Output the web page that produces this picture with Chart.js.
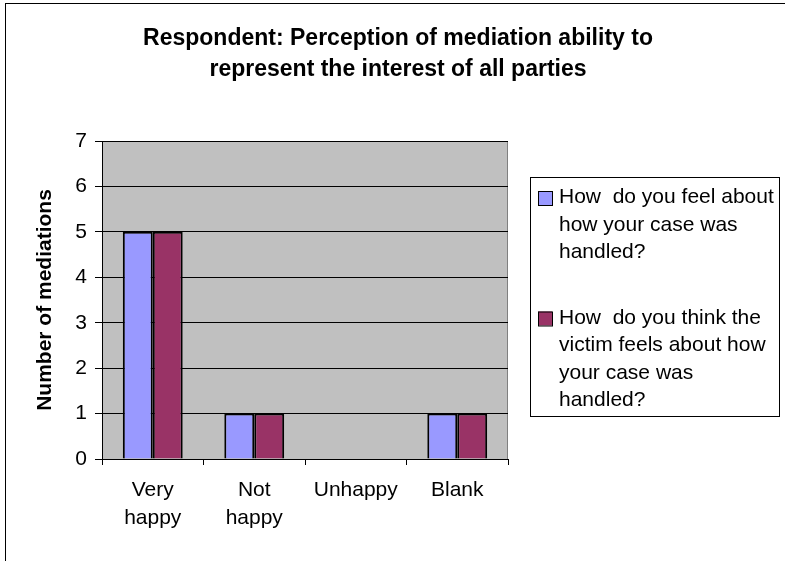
<!DOCTYPE html>
<html>
<head>
<meta charset="utf-8">
<title>Respondent: Perception of mediation ability</title>
<script src="https://cdn.jsdelivr.net/npm/chart.js@4/dist/chart.umd.min.js"></script>
<style>
  html, body { margin: 0; padding: 0; background: #fff; }
  #wrap { width: 785px; height: 561px; position: relative; }
</style>
</head>
<body>
<div id="wrap"><canvas id="mediationChart"></canvas></div>
<script>
const categories = [["Very", "happy"], ["Not", "happy"], "Unhappy", "Blank"];
const feelValues = [5, 1, 0, 1];
const victimValues = [5, 1, 0, 1];
const feelLabel = ["How  do you feel about", "how your case was", "handled?"];
const victimLabel = ["How  do you think the", "victim feels about how", "your case was", "handled?"];
const yTicks = [0, 1, 2, 3, 4, 5, 6, 7];

const FONT = "Arial, 'Liberation Sans', sans-serif";

// grey plot area + outer frame
const backdrop = {
  id: "backdrop",
  beforeDraw(chart) {
    const { ctx, chartArea: a } = chart;
    ctx.save();
    ctx.fillStyle = "#fff";
    ctx.fillRect(0, 0, chart.width, chart.height);
    ctx.strokeStyle = "#000";
    ctx.lineWidth = 1;
    ctx.strokeRect(5.5, 3.5, chart.width + 20, chart.height + 20);
    ctx.fillStyle = "#c0c0c0";
    ctx.fillRect(a.left, a.top, a.right - a.left, a.bottom - a.top);
    ctx.strokeStyle = "#808080";
    ctx.beginPath();
    ctx.moveTo(a.right - 0.5, a.top);
    ctx.lineTo(a.right - 0.5, a.bottom);
    ctx.stroke();
    ctx.restore();
  },
};

// boxed legend on the right with wrapped labels
const sideLegend = {
  id: "sideLegend",
  afterDraw(chart) {
    const { ctx } = chart;
    const entries = [
      { lines: feelLabel, color: chart.data.datasets[0].backgroundColor, top: 203 },
      { lines: victimLabel, color: chart.data.datasets[1].backgroundColor, top: 323.5 },
    ];
    ctx.save();
    ctx.strokeStyle = "#000";
    ctx.lineWidth = 1;
    ctx.strokeRect(530.5, 177.5, 249, 239);
    ctx.font = "21px " + FONT;
    ctx.fillStyle = "#000";
    ctx.textBaseline = "alphabetic";
    entries.forEach((e) => {
      ctx.fillStyle = e.color;
      ctx.fillRect(538, e.top - 12, 14, 14);
      ctx.strokeRect(538.5, e.top - 11.5, 14, 14);
      ctx.fillStyle = "#000";
      e.lines.forEach((line, i) => {
        ctx.fillText(line, 559, e.top + i * 27.5);
      });
    });
    ctx.restore();
  },
};

new Chart(document.getElementById("mediationChart"), {
  type: "bar",
  data: {
    labels: categories,
    datasets: [
      {
        label: feelLabel.join(" "),
        data: feelValues,
        backgroundColor: "#9999ff",
        borderColor: "#000",
        borderWidth: 2,
        categoryPercentage: 0.59,
        barPercentage: 1,
      },
      {
        label: victimLabel.join(" "),
        data: victimValues,
        backgroundColor: "#993366",
        borderColor: "#000",
        borderWidth: 2,
        categoryPercentage: 0.59,
        barPercentage: 1,
      },
    ],
  },
  plugins: [backdrop, sideLegend],
  options: {
    responsive: true,
    maintainAspectRatio: false,
    animation: false,
    layout: { padding: { left: 11, right: 0, top: 0, bottom: 0 } },
    plugins: {
      legend: { display: false },
      tooltip: { enabled: false },
      title: {
        display: true,
        text: ["Respondent: Perception of mediation ability to", "represent the interest of all parties"],
        color: "#000",
        font: { family: FONT, size: 23, weight: "bold", lineHeight: 1.37 },
        padding: { top: 22.75, bottom: 55.25 },
      },
    },
    scales: {
      x: {
        afterFit(s) { s.height = 102; },
        grid: { display: true, drawOnChartArea: false, drawTicks: true, tickLength: 6, color: "#000", offset: true },
        border: { display: true, color: "#000", width: 1 },
        ticks: { color: "#000", padding: 11, maxRotation: 0, font: { family: FONT, size: 21, lineHeight: 1.33 } },
      },
      y: {
        min: 0,
        max: 7,
        afterFit(s) { s.width = 91; },
        afterBuildTicks(s) { s.ticks = yTicks.map((v) => ({ value: v })); },
        grid: { color: "#000", tickLength: 7, drawTicks: true },
        border: { display: true, color: "#000", width: 1 },
        ticks: { color: "#000", padding: 8, font: { family: FONT, size: 21 } },
        title: {
          display: true,
          text: "Number of mediations",
          color: "#000",
          font: { family: FONT, size: 21, weight: "bold" },
          padding: { top: 21.4, bottom: 0 },
        },
      },
      spacer: {
        type: "linear",
        position: "right",
        display: true,
        afterFit(s) { s.width = 277; },
        grid: { display: false },
        border: { display: false },
        ticks: { display: false },
      },
    },
  },
});
</script>
</body>
</html>
